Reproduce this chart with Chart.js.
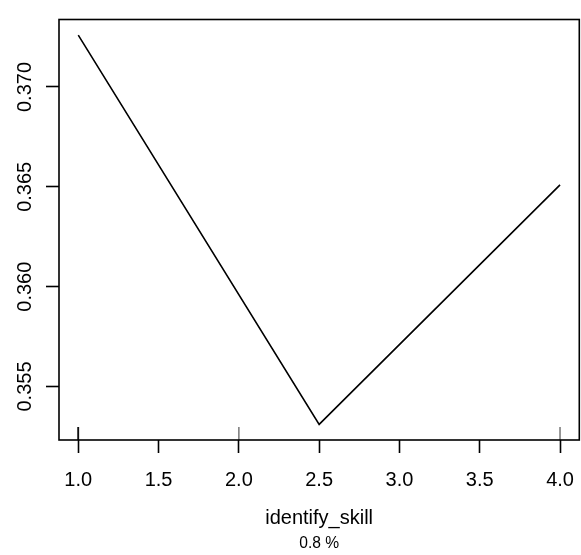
<!DOCTYPE html>
<html>
<head>
<meta charset="utf-8">
<script src="https://cdn.jsdelivr.net/npm/chart.js@4"></script>
<style>
  body { margin: 0; background: #fff; }
</style>
</head>
<body>
<canvas id="chart" width="581" height="555"></canvas>
<script>
const xValues = [1.0, 2.5, 4.0];
const yValues = [0.3726, 0.3531, 0.3651];
const xTicks = [1.0, 1.5, 2.0, 2.5, 3.0, 3.5, 4.0];
const yTicks = [0.355, 0.360, 0.365, 0.370];
const rugValues = [1.0, 1.0, 1.0, 1.0, 2.0, 4.0];
const xLabel = "identify_skill";
const footLabel = "0.8 %";

// R style axis range: data range padded by 4%
function padRange(vals) {
  const lo = Math.min(...vals), hi = Math.max(...vals);
  const d = (hi - lo) * 0.04;
  return [lo - d, hi + d];
}
const [xMin, xMax] = padRange(xValues);
const [yMin, yMax] = padRange(yValues);

Chart.defaults.font.family = '"Liberation Sans", Arial, sans-serif';
Chart.defaults.color = "#000";

const lw = 1.6;

const rBox = {
  id: "rBox",
  afterDatasetsDraw(chart) {
    const { ctx, chartArea: a, scales } = chart;
    ctx.save();
    // rug marks
    ctx.strokeStyle = "rgba(0,0,0,0.5)";
    ctx.lineWidth = lw;
    rugValues.forEach(v => {
      const x = scales.x.getPixelForValue(v);
      ctx.beginPath();
      ctx.moveTo(x, a.bottom);
      ctx.lineTo(x, a.bottom - 13);
      ctx.stroke();
    });
    // box
    ctx.strokeStyle = "#000";
    ctx.strokeRect(a.left, a.top, a.right - a.left, a.bottom - a.top);
    ctx.fillStyle = "#000";
    // small note under the axis title, centred on the plot
    ctx.font = '15.6px "Liberation Sans", Arial, sans-serif';
    ctx.textAlign = "center";
    ctx.textBaseline = "middle";
    ctx.fillText(footLabel, (a.left + a.right) / 2, 544);
    // rotated y tick labels
    ctx.font = '20px "Liberation Sans", Arial, sans-serif';
    ctx.textBaseline = "alphabetic";
    yTicks.forEach(v => {
      const y = scales.y.getPixelForValue(v);
      ctx.save();
      ctx.translate(31, y);
      ctx.rotate(-Math.PI / 2);
      ctx.fillText(v.toFixed(3), 0, 0);
      ctx.restore();
    });
    ctx.restore();
  }
};

new Chart(document.getElementById("chart"), {
  type: "line",
  data: {
    datasets: [{
      data: xValues.map((x, i) => ({ x, y: yValues[i] })),
      borderColor: "#000",
      borderWidth: lw,
      pointRadius: 0,
      tension: 0,
      fill: false
    }]
  },
  options: {
    responsive: false,
    animation: false,
    layout: { padding: { left: 0, right: 1.7, top: 19.5, bottom: 0 } },
    plugins: {
      legend: { display: false },
      tooltip: { enabled: false }
    },
    scales: {
      x: {
        type: "linear",
        min: xMin,
        max: xMax,
        afterBuildTicks: s => { s.ticks = xTicks.map(v => ({ value: v })); },
        afterFit: s => { s.height = 115; s.paddingLeft = 0; s.paddingRight = 0; },
        ticks: {
          font: { size: 20 },
          padding: 15.4,
          maxRotation: 0,
          autoSkip: false,
          callback: v => v.toFixed(1)
        },
        grid: { drawOnChartArea: false, tickLength: 13, tickWidth: lw, tickColor: "#000" },
        border: { display: false },
        title: { display: true, text: xLabel, font: { size: 20 }, padding: { top: 0, bottom: 25 } }
      },
      y: {
        type: "linear",
        min: yMin,
        max: yMax,
        afterBuildTicks: s => { s.ticks = yTicks.map(v => ({ value: v })); },
        afterFit: s => { s.width = 59; },
        ticks: { display: false },
        grid: { drawOnChartArea: false, tickLength: 13, tickWidth: lw, tickColor: "#000" },
        border: { display: false }
      }
    }
  },
  plugins: [rBox]
});
</script>
</body>
</html>
